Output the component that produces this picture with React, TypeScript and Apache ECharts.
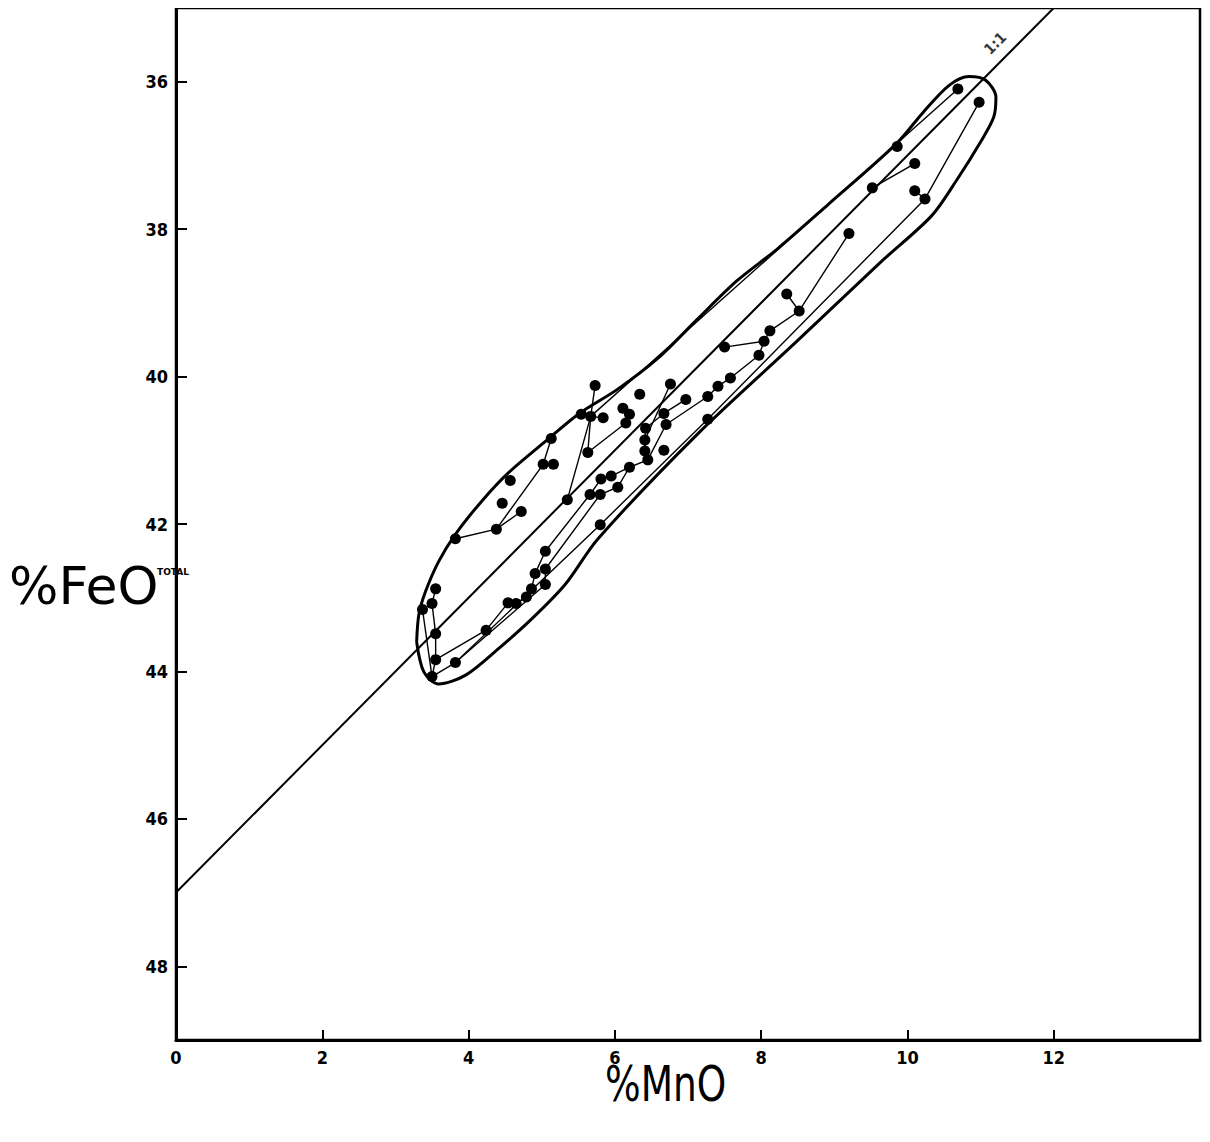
import React, { useEffect, useRef } from "react";
import * as echarts from "echarts";

// Measured points (%MnO, %FeO total)
const MNO = [
  10.69, 10.98, 9.86, 10.1, 9.52, 10.1, 10.24, 9.2, 8.35, 8.52,
  8.12, 8.04, 7.97, 7.5, 7.58, 7.41, 7.27, 7.27, 6.76, 6.34,
  6.11, 6.2, 6.15, 6.97, 6.67, 6.7, 6.42, 6.41, 6.41, 6.67,
  6.45, 6.2, 5.95, 5.81, 6.04, 5.8, 5.8, 5.73, 5.54, 5.67,
  5.84, 5.63, 5.13, 5.02, 5.16, 4.57, 4.46, 4.72, 4.38, 3.82,
  5.35, 5.66, 5.05, 3.55, 3.5, 3.37, 3.55, 3.55, 3.5, 3.82,
  4.24, 4.54, 4.65, 4.79, 4.86, 4.91, 5.05, 5.05,
];
const FEO = [
  36.1, 36.28, 36.88, 37.11, 37.44, 37.48, 37.59, 38.06, 38.88, 39.11,
  39.38, 39.52, 39.71, 39.6, 40.02, 40.13, 40.27, 40.58, 40.1, 40.24,
  40.43, 40.51, 40.63, 40.31, 40.5, 40.65, 40.7, 40.86, 41.01, 41.0,
  41.13, 41.23, 41.35, 41.39, 41.5, 41.6, 42.01, 40.12, 40.51, 40.54,
  40.56, 41.03, 40.84, 41.19, 41.19, 41.41, 41.72, 41.83, 42.07, 42.2,
  41.67, 41.6, 42.37, 42.88, 43.08, 43.16, 43.49, 43.84, 44.07, 43.88,
  43.44, 43.07, 43.08, 42.99, 42.88, 42.67, 42.61, 42.82,
];

// Tie lines / traverses, as indices into the point arrays
const CHAINS: number[][] = [
  [39, 0],
  [58, 59, 36, 17, 6, 1],
  [4, 3],
  [5, 6],
  [7, 9, 10, 11, 12],
  [8, 9],
  [13, 11],
  [16, 15, 14, 12],
  [30, 25, 16],
  [23, 24, 26, 28],
  [18, 27, 28, 30],
  [20, 21, 22, 41],
  [52, 51, 33, 32, 31, 30],
  [66, 35, 34, 31],
  [53, 54, 55, 58],
  [54, 56, 57, 58],
  [57, 60, 61, 62, 63, 64, 65, 52],
  [59, 67, 66],
  [49, 48, 47],
  [48, 43, 42],
  [43, 44],
  [37, 39, 50],
  [38, 39, 40],
  [39, 41],
];

// Envelope outline
const ENV_MNO = [
  3.29, 3.32, 3.41, 3.59, 3.82, 4.18, 4.54, 5.05, 5.5, 6.04, 6.59, 7.13, 7.67, 8.22,
  8.9, 9.85, 10.22, 10.57, 10.84, 11.07, 11.21, 11.18, 11.01, 10.67, 10.33, 9.62,
  8.49, 7.13, 5.77, 5.32, 4.86, 4.41, 3.96, 3.59, 3.39, 3.29,
];
const ENV_FEO = [
  43.6, 43.23, 42.92, 42.51, 42.14, 41.69, 41.31, 40.88, 40.51, 40.17, 39.75, 39.22,
  38.7, 38.27, 37.68, 36.84, 36.41, 36.05, 35.93, 35.98, 36.21, 36.48, 36.8, 37.34,
  37.82, 38.46, 39.52, 40.78, 42.2, 42.82, 43.29, 43.69, 44.05, 44.17, 44.01, 43.6,
];

// 1:1 reference line
const ONE_TO_ONE_MNO = [0, 12];
const ONE_TO_ONE_FEO = [47, 35];
const ONE_TO_ONE_LABEL = [11.2, 35.48];

const X_TICKS = [0, 2, 4, 6, 8, 10, 12];
const Y_TICKS = [36, 38, 40, 42, 44, 46, 48];

const pairs = (xs: number[], ys: number[]) => xs.map((x, i) => [x, ys[i]]);

export default function App() {
  const ref = useRef<HTMLDivElement>(null);
  useEffect(() => {
    if (!ref.current) return;
    const chart = echarts.init(ref.current, undefined, { renderer: "svg" });
    const tickFont = {
      color: "#000",
      fontFamily: "'Liberation Sans Narrow', 'DejaVu Sans Condensed', 'DejaVu Sans', sans-serif",
      fontWeight: "bold" as const,
      fontSize: 18,
    };
    const chainSeries = CHAINS.map((c) => ({
      type: "line" as const,
      data: c.map((i) => [MNO[i], FEO[i]]),
      symbol: "none",
      lineStyle: { color: "#000", width: 1.4 },
      silent: true,
      z: 3,
    }));
    chart.setOption({
      animation: false,
      backgroundColor: "#fff",
      grid: {
        left: 168,
        right: 2,
        top: 0,
        bottom: 94,
        show: true,
        borderColor: "#000",
        borderWidth: 2.5,
        backgroundColor: "transparent",
      },
      xAxis: {
        type: "value",
        min: 0,
        max: 14,
        interval: 2,
        splitLine: { show: false },
        axisLine: { show: true, lineStyle: { color: "#000", width: 3 } },
        axisTick: {
          show: true,
          inside: true,
          length: 10,
          lineStyle: { color: "#000", width: 2 },
          customValues: X_TICKS,
        },
        axisLabel: { ...tickFont, margin: 8, customValues: X_TICKS },
      },
      yAxis: {
        type: "value",
        min: 35,
        max: 49,
        inverse: true,
        splitLine: { show: false },
        axisLine: { show: true, lineStyle: { color: "#000", width: 3 } },
        axisTick: {
          show: true,
          inside: true,
          length: 11,
          lineStyle: { color: "#000", width: 2 },
          customValues: Y_TICKS,
        },
        axisLabel: { ...tickFont, margin: 8, customValues: Y_TICKS },
      },
      series: [
        {
          type: "line",
          data: pairs(ENV_MNO, ENV_FEO),
          smooth: 0.3,
          symbol: "none",
          lineStyle: { color: "#000", width: 3 },
          silent: true,
          z: 2,
        },
        {
          type: "line",
          data: pairs(ONE_TO_ONE_MNO, ONE_TO_ONE_FEO),
          symbol: "none",
          lineStyle: { color: "#000", width: 2 },
          silent: true,
          z: 2,
        },
        ...chainSeries,
        {
          type: "scatter",
          data: pairs(MNO, FEO),
          symbol: "circle",
          symbolSize: 11,
          itemStyle: { color: "#000", opacity: 1 },
          z: 5,
        },
        {
          type: "scatter",
          data: [ONE_TO_ONE_LABEL],
          symbol: "circle",
          symbolSize: 1,
          itemStyle: { color: "rgba(255,255,255,0)" },
          label: {
            show: true,
            formatter: "1:1",
            position: "inside",
            rotate: 45,
            color: "#000",
            textBorderWidth: 0,
            fontWeight: "bold",
            fontSize: 15,
            fontFamily: "'DejaVu Sans Condensed', 'DejaVu Sans', sans-serif",
          },
          z: 6,
        },
      ],
      graphic: [
        {
          type: "text",
          left: 1,
          top: 552,
          style: {
            text: "%FeO",
            fontSize: 52,
            fontFamily: "'DejaVu Sans', sans-serif",
            fill: "#000",
          },
        },
        {
          type: "text",
          left: 149,
          top: 559,
          style: {
            text: "TOTAL",
            fontSize: 9,
            fontWeight: "bold",
            fontFamily: "'DejaVu Sans', sans-serif",
            fill: "#000",
          },
        },
        {
          type: "text",
          x: 597,
          y: 1050,
          scaleX: 0.75,
          style: {
            text: "%MnO",
            fontSize: 50,
            fontFamily: "'DejaVu Sans', sans-serif",
            fill: "#000",
          },
        },
      ],
    });
    return () => chart.dispose();
  }, []);
  return <div ref={ref} style={{ width: 1194, height: 1126 }} />;
}
